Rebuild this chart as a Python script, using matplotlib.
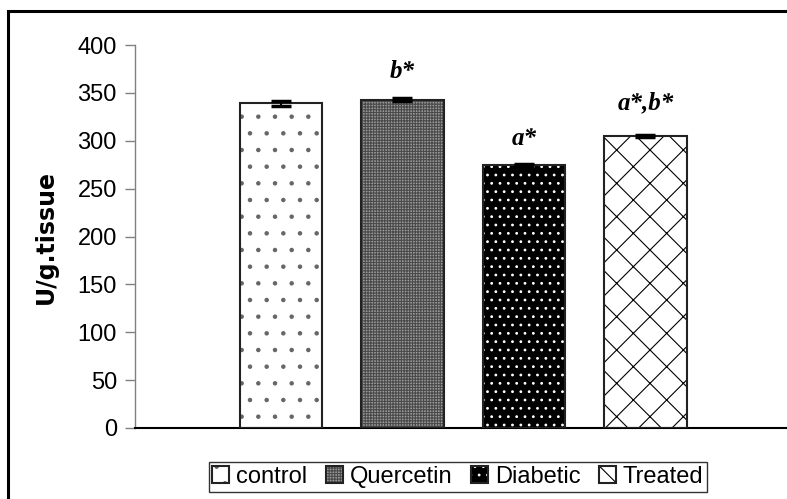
import matplotlib
matplotlib.use("Agg")
import matplotlib.pyplot as plt
from matplotlib.patches import Rectangle
from matplotlib.legend_handler import HandlerTuple

groups = ["control", "Quercetin", "Diabetic", "Treated"]
values = [339, 343, 275, 305]
errors = [2.5, 1.2, 1.0, 1.2]
marks = ["", "b*", "a*", "a*,b*"]
yticks = [0, 50, 100, 150, 200, 250, 300, 350, 400]

faces = ["white", "#9a9a9a", "black", "white"]
hatch_colors = ["#666666", "#4a4a4a", "white", "black"]
hatches = [".", "++++++", "..", "x"]
mark_offsets = [0, 29, 27, 35]

plt.rcParams['hatch.linewidth'] = 0.8

fig = plt.figure(figsize=(7.87, 4.99), dpi=100)
ax = fig.add_axes([135/787, 1 - 428/499, 1 - 135/787 + 0.01, (428 - 45)/499])

x = list(range(len(groups)))
width = 0.68
handles = []
for i in x:
    hb = ax.bar(i, values[i], width=width, color=faces[i], edgecolor=hatch_colors[i],
                hatch=hatches[i], linewidth=0, zorder=2)
    bb = ax.bar(i, values[i], width=width, fill=False, edgecolor="#222222",
                linewidth=1.5, zorder=3)
    handles.append((hb.patches[0], bb.patches[0]))
    ax.errorbar(i, values[i], yerr=errors[i], fmt="none", ecolor="black",
                elinewidth=1.5, capsize=7, capthick=2.5, zorder=4)
    if marks[i]:
        ax.text(i, values[i] + mark_offsets[i], marks[i], ha="center", va="center",
                fontsize=18, fontweight="bold", fontstyle="italic",
                family="Liberation Serif")

ax.set_xlim(-1.2, 4.23)
ax.set_ylim(0, 400)
ax.set_yticks(yticks)
ax.set_xticks([])
ax.tick_params(axis="y", direction="out", length=7, width=1, color="#808080",
               pad=6, labelsize=17)
for lab in ax.get_yticklabels():
    lab.set_family("Liberation Sans")
ax.spines["top"].set_visible(False)
ax.spines["right"].set_visible(False)
ax.spines["left"].set_color("#808080")
ax.spines["left"].set_linewidth(1)
ax.spines["bottom"].set_color("black")
ax.spines["bottom"].set_linewidth(1.5)
ax.set_ylabel("U/g.tissue", fontsize=17, fontweight="bold", family="DejaVu Sans")
ax.yaxis.set_label_coords(-0.117, 0.5)

leg = fig.legend(handles, groups, handler_map={tuple: HandlerTuple(ndivide=1)},
                 loc="center", bbox_to_anchor=(458/787, 1 - 477/499), ncol=4,
                 frameon=True, fancybox=False, edgecolor="black",
                 prop={"family": "Liberation Sans", "size": 17},
                 handlelength=0.7, handleheight=0.7, handletextpad=0.3,
                 columnspacing=0.8, borderpad=0.15)
leg.get_frame().set_linewidth(1)

frame = Rectangle((8/787, -0.1), 1.2, 1.1 - 11/499, transform=fig.transFigure,
                  fill=False, edgecolor="black", linewidth=2.2)
fig.patches.append(frame)

fig.savefig("out.png", dpi=100)
